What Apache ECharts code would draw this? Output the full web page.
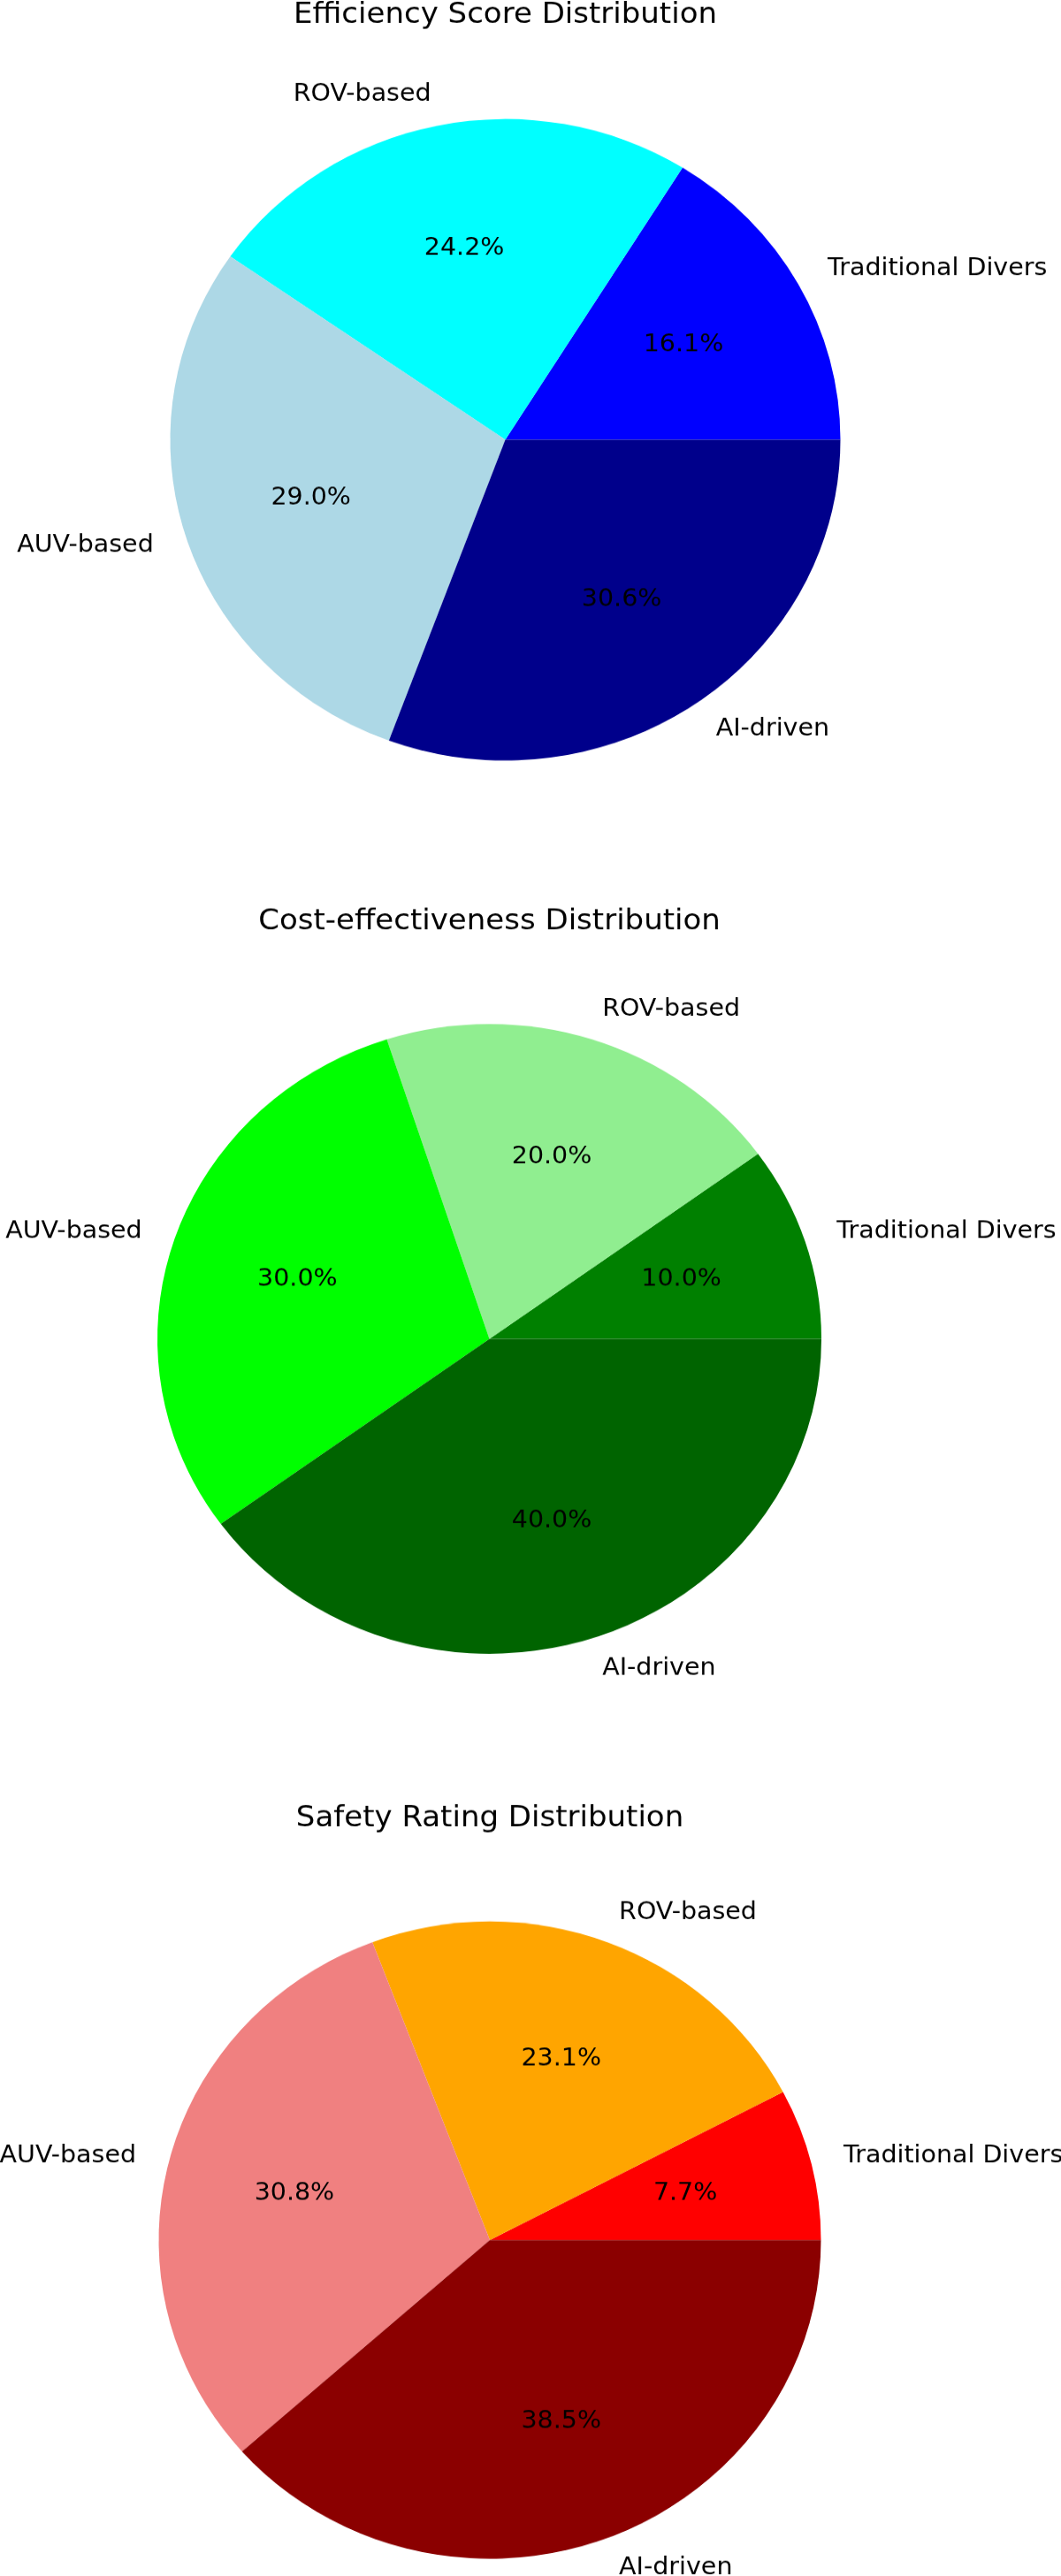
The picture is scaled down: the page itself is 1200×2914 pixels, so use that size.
<!DOCTYPE html>
<html>
<head>
<meta charset="utf-8">
<script src="https://cdn.jsdelivr.net/npm/echarts@6/dist/echarts.min.js"></script>
<style>
  html, body { margin: 0; padding: 0; background: #ffffff; }
  #page { position: relative; width: 1200px; height: 2914px; overflow: hidden; background: #fff; }
  .band { position: absolute; left: 0; width: 1200px; transform-origin: 0 0; }
</style>
</head>
<body>
<div id="page">
  <div id="c1" class="band"></div>
  <div id="c2" class="band"></div>
  <div id="c3" class="band"></div>
</div>
<script>
// ---------------- data ----------------
const categories = ['Traditional Divers', 'ROV-based', 'AUV-based', 'AI-driven'];

const efficiencyTitle = 'Efficiency Score Distribution';
const efficiencyValues = [10, 15, 18, 19];
const efficiencyColors = ['#0000ff', '#00ffff', '#add8e6', '#00008b'];

const costTitle = 'Cost-effectiveness Distribution';
const costValues = [10, 20, 30, 40];
const costColors = ['#008000', '#90ee90', '#00ff00', '#006400'];

const safetyTitle = 'Safety Rating Distribution';
const safetyValues = [1, 3, 4, 5];
const safetyColors = ['#ff0000', '#ffa500', '#f08080', '#8b0000'];

// ---------------- layout (page pixels) ----------------
const FONT = 'DejaVu Sans';
const TITLE_SIZE = 34;
const LABEL_SIZE = 28.5;
const bands = [
  { el: 'c1', top: 0,    height: 1000, cx: 571.5, cy: 497,    rx: 379,   ry: 362.5, titleBase: 27,   title: efficiencyTitle, values: efficiencyValues, colors: efficiencyColors },
  { el: 'c2', top: 1000, height: 960,  cx: 553.5, cy: 1514.5, rx: 375.5, ry: 356.2, titleBase: 1052, title: costTitle,       values: costValues,       colors: costColors },
  { el: 'c3', top: 1960, height: 954,  cx: 554,   cy: 2534,   rx: 374.5, ry: 360.5, titleBase: 2067, title: safetyTitle,     values: safetyValues,     colors: safetyColors }
];

function buildOption(b, s) {
  const total = b.values.reduce((a, v) => a + v, 0);
  const data = categories.map((name, i) => ({ name: name, value: b.values[i], itemStyle: { color: b.colors[i] } }));
  const cyChart = (b.cy - b.top) / s;
  const titleTop = (b.titleBase - b.top) / s - 0.797 * TITLE_SIZE;
  return {
    animation: false,
    backgroundColor: '#ffffff',
    title: {
      text: b.title,
      left: b.cx,
      textAlign: 'center',
      top: titleTop,
      padding: 0,
      textStyle: { fontFamily: FONT, fontSize: TITLE_SIZE, fontWeight: 'normal', color: '#000' }
    },
    series: [
      {
        type: 'pie',
        center: [b.cx, cyChart],
        radius: [0, b.rx],
        startAngle: 0,
        clockwise: false,
        avoidLabelOverlap: false,
        silent: true,
        emphasis: { disabled: true },
        itemStyle: { borderWidth: 0 },
        label: {
          show: true,
          position: 'outside',
          formatter: '{b}',
          fontFamily: FONT,
          fontSize: LABEL_SIZE,
          color: '#000',
          distanceToLabelLine: 0
        },
        labelLine: { show: false, length: 0.1 * b.rx, length2: 0 },
        data: data
      },
      {
        type: 'pie',
        center: [b.cx, cyChart],
        radius: [0.2 * b.rx, b.rx],
        startAngle: 0,
        clockwise: false,
        avoidLabelOverlap: false,
        silent: true,
        emphasis: { disabled: true },
        itemStyle: { color: 'rgba(0,0,0,0)', borderWidth: 0 },
        label: {
          show: true,
          position: 'inside',
          formatter: (p) => (p.value / total * 100).toFixed(1) + '%',
          fontFamily: FONT,
          fontSize: LABEL_SIZE,
          color: '#000',
          textBorderWidth: 0,
          textShadowBlur: 0
        },
        labelLine: { show: false },
        data: categories.map((name, i) => ({ name: name, value: b.values[i] }))
      }
    ]
  };
}

bands.forEach((b) => {
  const s = b.ry / b.rx;
  const el = document.getElementById(b.el);
  el.style.top = b.top + 'px';
  el.style.height = (b.height / s) + 'px';
  el.style.transform = 'scaleY(' + s + ')';
  const chart = echarts.init(el, null, { renderer: 'canvas', width: 1200, height: b.height / s });
  chart.setOption(buildOption(b, s));
});
</script>
</body>
</html>
